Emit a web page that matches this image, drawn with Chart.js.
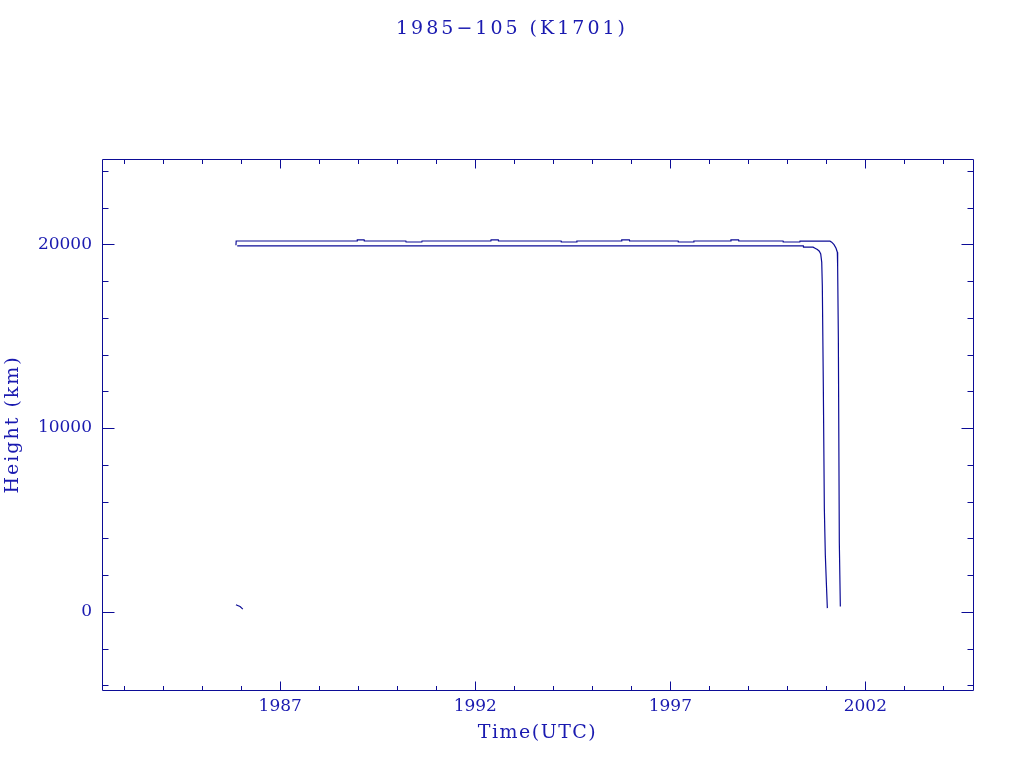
<!DOCTYPE html>
<html>
<head>
<meta charset="utf-8">
<script src="https://cdn.jsdelivr.net/npm/chart.js@4/dist/chart.umd.min.js"></script>
<style>
  html, body { margin: 0; background: #fff; }
  #wrap { width: 1024px; height: 768px; }
</style>
</head>
<body>
<div id="wrap"><canvas id="chart"></canvas></div>
<script>
const chartTitle = "1985\u2212105 (K1701)";
const xTitle = "Time(UTC)";
const yTitle = "Height (km)";

// axis ranges and ticks (years / km)
const xRange = [1982.43, 2004.76];
const yRange = [-4254, 24652];
const xTickYears = [1987, 1992, 1997, 2002];
const yTickKm = [0, 10000, 20000];
const xMinorStep = 1;
const yMinorStep = 2000;

// upper curve
const upperYears = [1985.864, 1985.87, 1988.97, 1988.975, 1989.15, 1989.155, 1990.22, 1990.225,
  1990.63, 1990.635, 1992.40, 1992.405, 1992.59, 1992.595, 1994.2, 1994.205, 1994.6, 1994.605,
  1995.75, 1995.755, 1995.95, 1995.955, 1997.2, 1997.205, 1997.6, 1997.605, 1998.55, 1998.555,
  1998.75, 1998.755, 1999.89, 1999.895, 2000.32, 2000.325, 2001.094, 2001.138, 2001.197,
  2001.249, 2001.282, 2001.29, 2001.308, 2001.333, 2001.359];
const upperKm = [19950, 20180, 20180, 20235, 20235, 20180, 20180, 20125,
  20125, 20180, 20180, 20235, 20235, 20180, 20180, 20125, 20125, 20180,
  20180, 20235, 20235, 20180, 20180, 20125, 20125, 20180, 20180, 20235,
  20235, 20180, 20180, 20125, 20125, 20180, 20170, 20115, 19984,
  19787, 19569, 18767, 14877, 3748, 289];

// lower curve
const lowerYears = [1985.897, 2000.41, 2000.415, 2000.66, 2000.71, 2000.77, 2000.82, 2000.856,
  2000.882, 2000.897, 2000.923, 2000.949, 2000.974, 2001.0, 2001.026];
const lowerKm = [19910, 19910, 19850, 19842, 19787, 19711, 19624, 19476,
  19024, 17747, 12204, 5603, 3093, 1598, 202];

// short piece near zero at launch
const launchYears = [1985.864, 1985.907, 1985.97, 1986.04];
const launchKm = [382, 344, 289, 147];

const INK = "#0c0c96";
const TEXT = "#1a1ab0";
const SERIF = "'DejaVu Serif', 'Liberation Serif', serif";

const pts = (xs, ys) => xs.map((x, i) => ({ x, y: ys[i] }));

function spaced(obj, name, px) {
  if (!obj || obj["_sp_" + name]) return;
  const orig = obj[name];
  obj[name] = function (...a) {
    const c = this.ctx, prev = c.letterSpacing;
    c.letterSpacing = px;
    orig.apply(this, a);
    c.letterSpacing = prev;
  };
  obj["_sp_" + name] = true;
}

// PGPLOT-like box with inward ticks on all four sides
const frame = {
  id: "frame",
  beforeDraw(chart) {
    spaced(chart.titleBlock, "draw", "3px");
    spaced(chart.scales.x, "drawTitle", "1.5px");
    spaced(chart.scales.y, "drawTitle", "2px");
  },
  afterDatasetsDraw(chart) {
    const { ctx, chartArea: a, scales: { x, y } } = chart;
    const L = Math.round(a.left) + 0.5, R = Math.round(a.right) + 0.5;
    const T = Math.round(a.top) + 0.5, B = Math.round(a.bottom) + 0.5;
    ctx.save();
    ctx.strokeStyle = INK;
    ctx.lineWidth = 1;
    ctx.beginPath();
    ctx.rect(L, T, R - L, B - T);
    for (let v = Math.ceil(xRange[0]); v <= xRange[1]; v += xMinorStep) {
      const px = Math.round(x.getPixelForValue(v)) + 0.5;
      const len = xTickYears.includes(v) ? 9 : 4.5;
      ctx.moveTo(px, B); ctx.lineTo(px, B - len);
      ctx.moveTo(px, T); ctx.lineTo(px, T + len);
    }
    for (let v = Math.ceil(yRange[0] / yMinorStep) * yMinorStep; v <= yRange[1]; v += yMinorStep) {
      const py = Math.round(y.getPixelForValue(v)) + 0.5;
      const len = yTickKm.includes(v) ? 12 : 6;
      ctx.moveTo(L, py); ctx.lineTo(L + len, py);
      ctx.moveTo(R, py); ctx.lineTo(R - len, py);
    }
    ctx.stroke();
    ctx.restore();
  }
};

const line = (data) => ({
  data, borderColor: INK, borderWidth: 1.2, pointRadius: 0, tension: 0, fill: false
});

new Chart(document.getElementById("chart"), {
  type: "line",
  data: {
    datasets: [
      line(pts(upperYears, upperKm)),
      line(pts(lowerYears, lowerKm)),
      line(pts(launchYears, launchKm))
    ]
  },
  options: {
    responsive: true,
    maintainAspectRatio: false,
    animation: false,
    layout: { padding: 0 },
    plugins: {
      legend: { display: false },
      tooltip: { enabled: false },
      title: {
        display: true, text: chartTitle, color: TEXT,
        font: { family: SERIF, size: 19, weight: "normal", lineHeight: 1.2 },
        padding: { top: 18, bottom: 118 }
      }
    },
    scales: {
      x: {
        type: "linear", min: xRange[0], max: xRange[1],
        grid: { display: false, drawTicks: false }, border: { display: false },
        afterBuildTicks: s => { s.ticks = xTickYears.map(v => ({ value: v })); },
        afterFit: s => { s.height = 78; },
        ticks: { color: TEXT, padding: 6, maxRotation: 0, autoSkip: false,
          font: { family: SERIF, size: 17 }, callback: v => String(v) },
        title: { display: true, text: xTitle, color: TEXT,
          font: { family: SERIF, size: 19, lineHeight: 1.2 }, padding: { top: 0, bottom: 24 } }
      },
      y: {
        type: "linear", min: yRange[0], max: yRange[1],
        grid: { display: false, drawTicks: false }, border: { display: false },
        afterBuildTicks: s => { s.ticks = yTickKm.map(v => ({ value: v })); },
        afterFit: s => { s.width = 102; },
        ticks: { color: TEXT, padding: 10, autoSkip: false,
          font: { family: SERIF, size: 17 }, callback: v => String(v) },
        title: { display: true, text: yTitle, color: TEXT,
          font: { family: SERIF, size: 19, lineHeight: 1.2 }, padding: { top: 2, bottom: 0 } }
      },
      // empty right-hand strip so the title stays centred on the page
      yRight: {
        type: "linear", position: "right", min: yRange[0], max: yRange[1],
        grid: { display: false, drawTicks: false }, border: { display: false },
        ticks: { display: false },
        afterFit: s => { s.width = 51; }
      }
    }
  },
  plugins: [frame]
});
</script>
</body>
</html>
